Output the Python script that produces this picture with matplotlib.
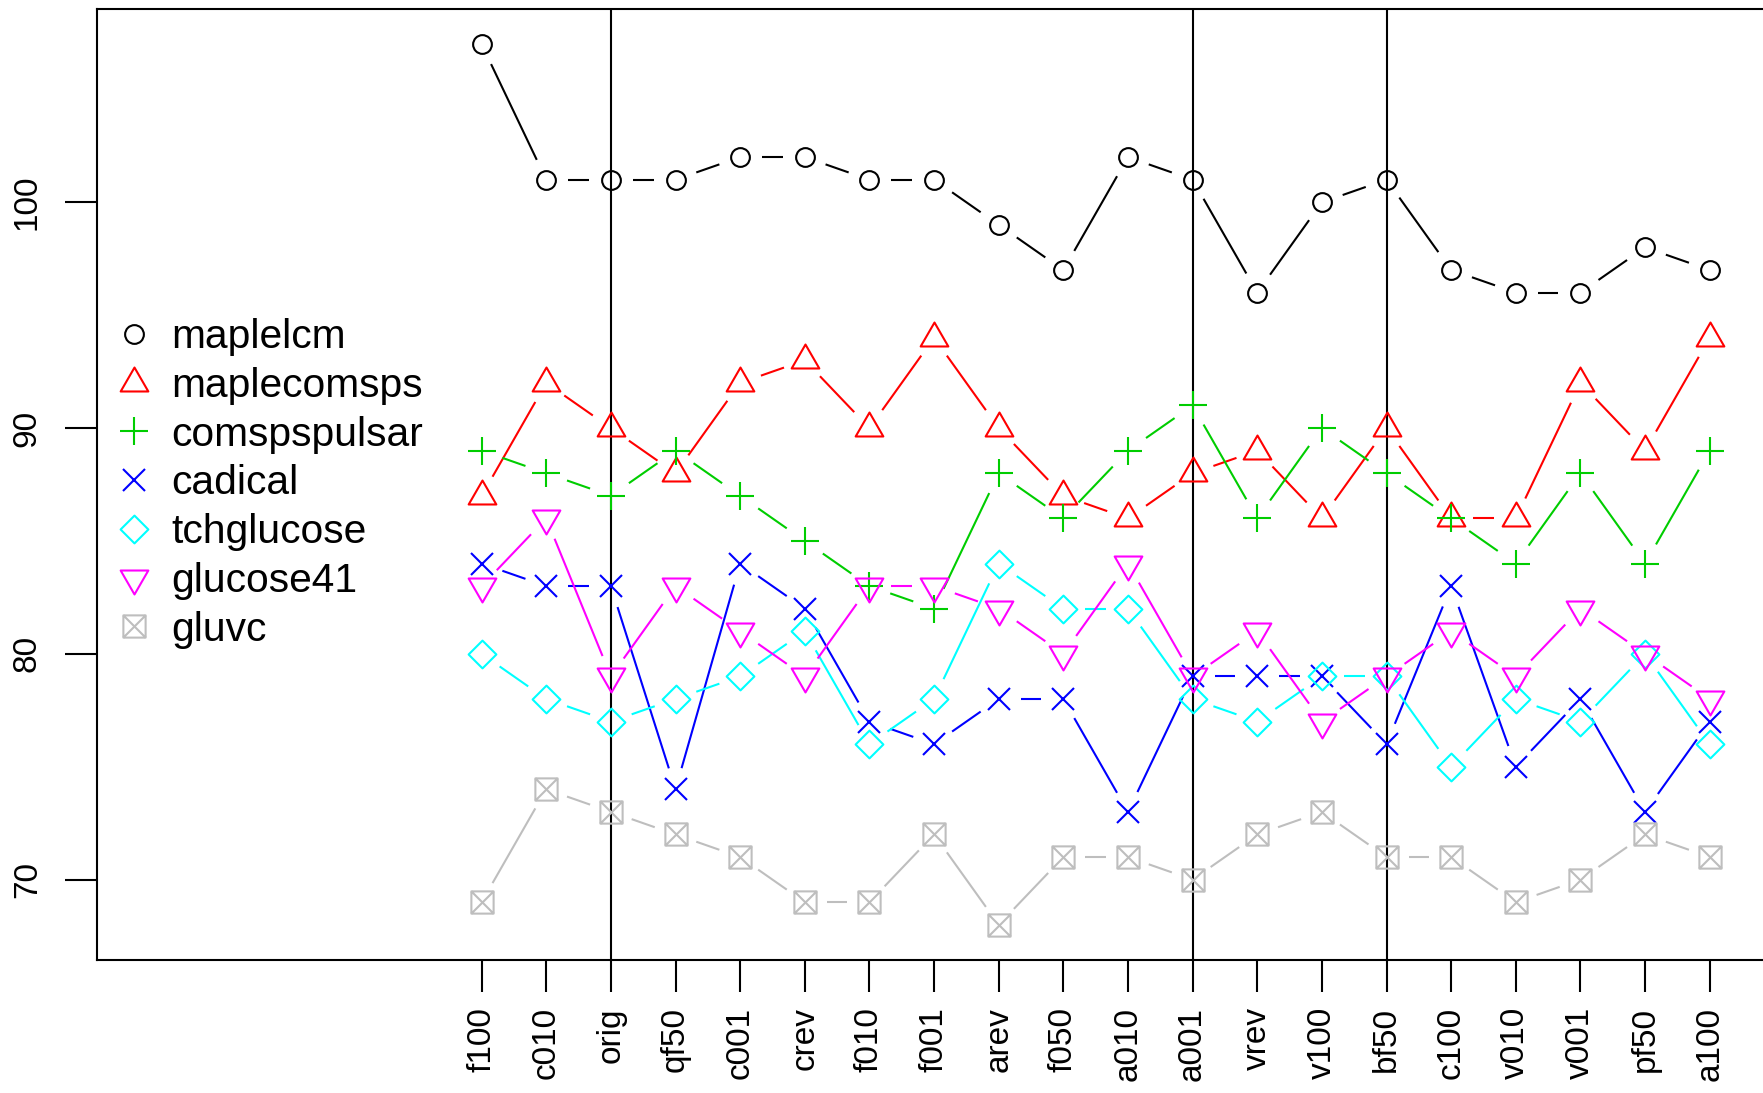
import numpy as np
import matplotlib
matplotlib.use("Agg")
import matplotlib.pyplot as plt
from matplotlib.path import Path
from matplotlib.lines import Line2D
from matplotlib.collections import LineCollection

categories = ["f100", "c010", "orig", "qf50", "c001", "crev", "f010", "f001", "arev", "f050",
              "a010", "a001", "vrev", "v100", "bf50", "c100", "v010", "v001", "pf50", "a100"]

maplelcm = [107, 101, 101, 101, 102, 102, 101, 101, 99, 97, 102, 101, 96, 100, 101, 97, 96, 96, 98, 97]
maplecomsps = [87, 92, 90, 88, 92, 93, 90, 94, 90, 87, 86, 88, 89, 86, 90, 86, 86, 92, 89, 94]
comspspulsar = [89, 88, 87, 89, 87, 85, 83, 82, 88, 86, 89, 91, 86, 90, 88, 86, 84, 88, 84, 89]
cadical = [84, 83, 83, 74, 84, 82, 77, 76, 78, 78, 73, 79, 79, 79, 76, 83, 75, 78, 73, 77]
tchglucose = [80, 78, 77, 78, 79, 81, 76, 78, 84, 82, 82, 78, 77, 79, 79, 75, 78, 77, 80, 76]
glucose41 = [83, 86, 79, 83, 81, 79, 83, 83, 82, 80, 84, 79, 81, 77, 79, 81, 79, 82, 80, 78]
gluvc = [69, 74, 73, 72, 71, 69, 69, 72, 68, 71, 71, 70, 72, 73, 71, 71, 69, 70, 72, 71]

series_names = ["maplelcm", "maplecomsps", "comspspulsar", "cadical", "tchglucose", "glucose41", "gluvc"]
series_values = [maplelcm, maplecomsps, comspspulsar, cadical, tchglucose, glucose41, gluvc]
colors = ["#000000", "#FF0000", "#00CD00", "#0000FF", "#00FFFF", "#FF00FF", "#BEBEBE"]
separators = ["orig", "a001", "bf50"]

# R-style open markers
tri_up = Path([(0, 1), (0.866, -0.5), (-0.866, -0.5), (0, 1)],
              [Path.MOVETO, Path.LINETO, Path.LINETO, Path.CLOSEPOLY])
tri_down = Path([(0, -1), (0.866, 0.5), (-0.866, 0.5), (0, -1)],
                [Path.MOVETO, Path.LINETO, Path.LINETO, Path.CLOSEPOLY])
diamond = Path([(0, 1), (1, 0), (0, -1), (-1, 0), (0, 1)],
               [Path.MOVETO, Path.LINETO, Path.LINETO, Path.LINETO, Path.CLOSEPOLY])
box_x = Path([(-1, -1), (1, -1), (1, 1), (-1, 1), (-1, -1),
              (-1, -1), (1, 1), (-1, 1), (1, -1)],
             [Path.MOVETO, Path.LINETO, Path.LINETO, Path.LINETO, Path.CLOSEPOLY,
              Path.MOVETO, Path.LINETO, Path.MOVETO, Path.LINETO])
markers = ["o", tri_up, "+", "x", diamond, tri_down, box_x]
msizes = [13.5, 23, 20, 16, 20, 23, 16]

plt.rcParams['font.family'] = ['Liberation Sans', 'DejaVu Sans']

W, H = 1763, 1093
fig = plt.figure(figsize=(W / 100, H / 100), dpi=100)
ax = fig.add_axes([97 / W, 1 - 960 / H, 1742 / W, 951 / H])
ax.set_xlim(-4.95, 22)
ax.set_ylim(66.44, 108.56)

x = np.arange(1, len(categories) + 1)


def gapped_segments(ax, xs, ys, gap_px):
    """Segments between points, cut back like R's type='b'."""
    pts = ax.transData.transform(np.column_stack([xs, ys]))
    inv = ax.transData.inverted()
    segs = []
    for p0, p1 in zip(pts[:-1], pts[1:]):
        d = p1 - p0
        length = np.hypot(*d)
        if length <= 2 * gap_px:
            continue
        u = d / length
        segs.append(inv.transform([p0 + u * gap_px, p1 - u * gap_px]))
    return segs


for cat in separators:
    ax.axvline(categories.index(cat) + 1, color="black", lw=1.5)

handles = []
for name, vals, col, mk, ms in zip(series_names, series_values, colors, markers, msizes):
    segs = gapped_segments(ax, x, vals, 22)
    ax.add_collection(LineCollection(segs, colors=col, linewidths=1.5))
    ax.plot(x, vals, linestyle="none", marker=mk, ms=ms, mfc="none", mec=col, mew=1.5)
    handles.append(Line2D([], [], linestyle="none", marker=mk, ms=ms, mfc="none",
                          mec=col, mew=1.5, label=name))

ax.set_xticks(x)
ax.set_xticklabels(categories, rotation=90, va="top", ha="center")
ax.set_yticks([70, 80, 90, 100])
ax.set_yticklabels(["70", "80", "90", "100"], rotation=90, va="center")
ax.tick_params(axis="both", direction="out", length=23, width=1.5, labelsize=24)
ax.tick_params(axis="x", pad=11)
ax.tick_params(axis="y", pad=16)
for sp in ax.spines.values():
    sp.set_linewidth(1.5)

fig.legend(handles=handles, loc="upper left", bbox_to_anchor=(114 / W, 1 - 318 / H),
           frameon=False, fontsize=29.3, handlelength=1.0, handletextpad=0.41,
           labelspacing=0.265, borderpad=0, borderaxespad=0)

fig.savefig("out.png", dpi=100)
